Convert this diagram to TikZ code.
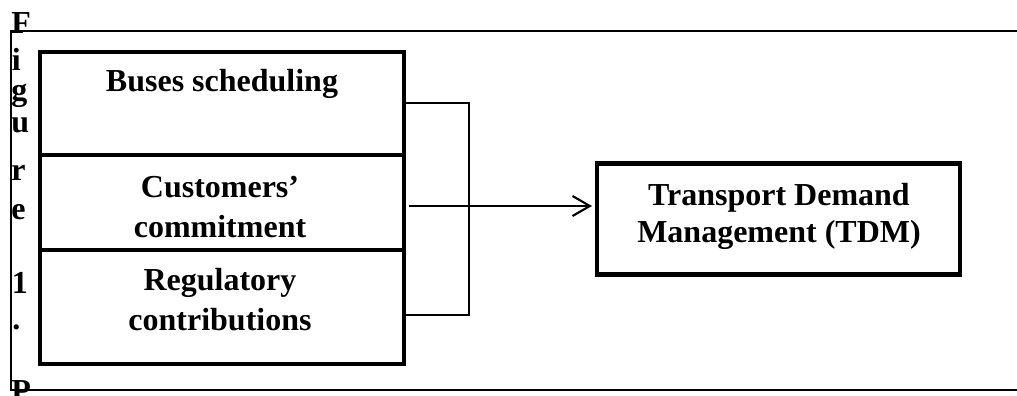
\documentclass[tikz,border=0pt]{standalone}
\usepackage{fontspec}
\setmainfont{Liberation Serif}
\usetikzlibrary{arrows.meta}
\begin{document}
\begin{tikzpicture}[x=0.75pt,y=-0.75pt,
  heavybox/.style={draw, line width=3.5pt, inner sep=0pt, outer sep=0pt},
  thinline/.style={line width=1.5pt},
  lbl/.style={font=\fontsize{24pt}{30pt}\selectfont\bfseries, align=center, anchor=base, inner sep=0pt},
  vletter/.style={font=\fontsize{24pt}{28pt}\selectfont\bfseries, anchor=base west, inner sep=0pt},
  link/.style={line width=1.6pt, -{Straight Barb[length=13pt,width=15pt]}}]
\useasboundingbox (0,0) rectangle (1017,396);

% outer frame: top, left and bottom rules
\coordinate (ftl) at (11,31);
\coordinate (fbl) at (11,390);
\coordinate (ftr) at (1017,31);
\coordinate (fbr) at (1017,390);
\draw[thinline] (ftr) -- (ftl) -- (fbl) -- (fbr);

% stacked factor boxes
\node[heavybox, anchor=north west, minimum width=273pt, minimum height=77.25pt] (bus) at (40,52) {};
\node[heavybox, anchor=north west, minimum width=273pt, minimum height=71.25pt] (cus) at (40,155) {};
\node[heavybox, anchor=north west, minimum width=273pt, minimum height=85.5pt] (reg) at (40,250) {};

% labels, placed by the baseline of their last line
\node[lbl] (bustxt) at (222,91) {Buses scheduling};
\node[lbl] (custxt) at (220,237) {Customers'\\commitment};
\node[lbl] (regtxt) at (220,330) {Regulatory\\contributions};

% target box
\node[heavybox, anchor=north west, minimum width=272.25pt, minimum height=83.25pt] (tdm) at (597,163.5) {};
\node[lbl, font=\fontsize{24pt}{27.75pt}\selectfont\bfseries] (tdmtxt) at (779,242) {Transport Demand\\Management (TDM)};

% bracket grouping the three factors
\coordinate (bt) at (404,103);
\coordinate (bb) at (404,315);
\draw[thinline] (bt) -- ++(65,0) |- (bb);

% arrow into the target box
\coordinate (src) at (409,206);
\draw[link, shorten >=3.75pt] (src) -- (tdm.west |- src);

% caption letters running down the left margin
\node[vletter] (c1) at (11,33) {F};
\node[vletter] (c2) at (11.5,70) {i};
\node[vletter] (c3) at (11,100) {g};
\node[vletter] (c4) at (11,132) {u};
\node[vletter] (c5) at (11,180) {r};
\node[vletter] (c6) at (11,219) {e};
\node[vletter] (c7) at (11.5,293) {1};
\node[vletter] (c8) at (12,329) {.};
\node[vletter] (c9) at (11,401) {P};
\end{tikzpicture}
\end{document}
